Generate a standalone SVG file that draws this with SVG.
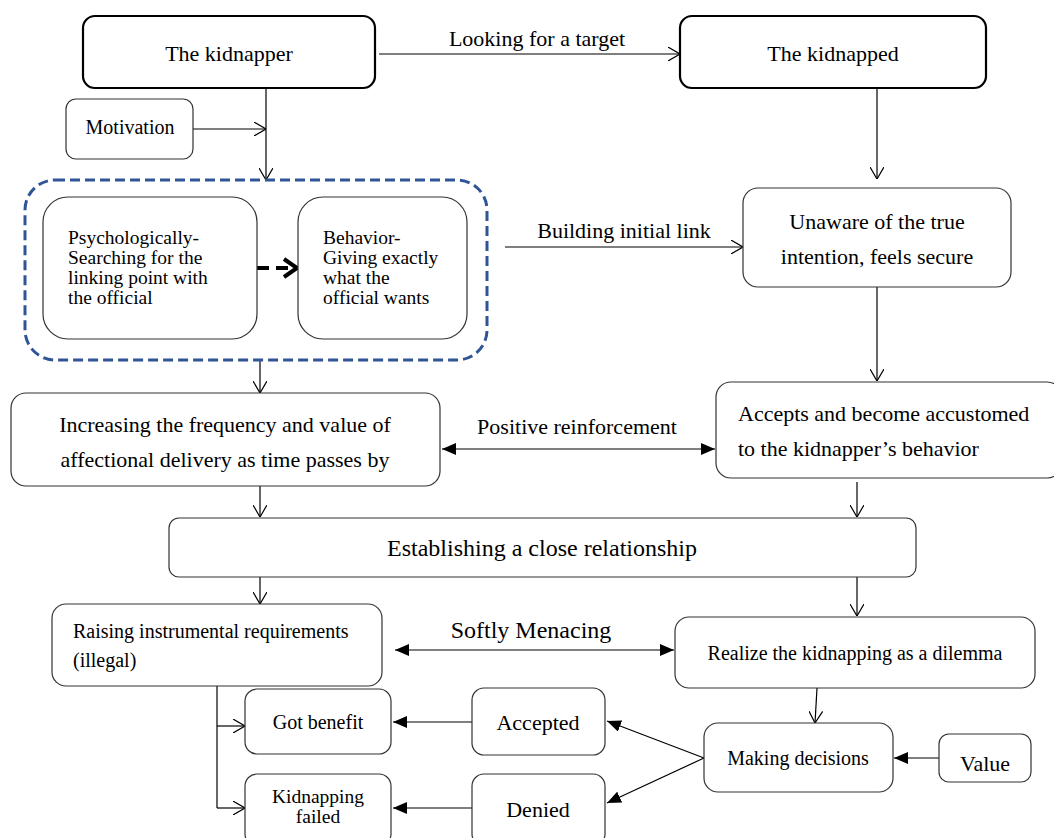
<svg xmlns="http://www.w3.org/2000/svg" width="1054" height="838" viewBox="0 0 1054 838">
<style>
text{font-family:"Liberation Serif","Times New Roman",serif;fill:#000}
.b{fill:#fff;stroke:#333;stroke-width:1.2}
.bb{fill:#fff;stroke:#000;stroke-width:2.2}
.c{fill:none;stroke:#000;stroke-width:1.2}
.f19{font-size:19.5px}.f20{font-size:20px}.f22{font-size:22px}.f24{font-size:24px}
.m{text-anchor:middle}
</style>
<defs>
<marker id="op" viewBox="0 0 12 14" refX="12" refY="7" markerWidth="12" markerHeight="14" markerUnits="userSpaceOnUse" orient="auto-start-reverse">
<path d="M0,0 L12,7 L0,14" fill="none" stroke="#000" stroke-width="1.2"/>
</marker>
<marker id="fl" viewBox="0 0 14 12" refX="14" refY="6" markerWidth="14" markerHeight="12" markerUnits="userSpaceOnUse" orient="auto-start-reverse">
<path d="M0,0 L14,6 L0,12 Z" fill="#000"/>
</marker>
</defs>
<rect width="1054" height="838" fill="#fff"/>

<g id="connectors">
<line class="c" x1="379" y1="54" x2="680" y2="54" marker-end="url(#op)"/>
<line class="c" x1="193" y1="129" x2="266" y2="129" marker-end="url(#op)"/>
<line class="c" x1="266" y1="88" x2="266" y2="180" marker-end="url(#op)"/>
<line class="c" x1="877" y1="88" x2="877" y2="179" marker-end="url(#op)"/>
<line x1="257" y1="268" x2="295" y2="268" stroke="#000" stroke-width="4" stroke-dasharray="12 7"/>
<path d="M284,259 L297,268 L284,277" fill="none" stroke="#000" stroke-width="4"/>
<line class="c" x1="505" y1="247" x2="743" y2="247" marker-end="url(#op)"/>
<line class="c" x1="877" y1="287" x2="877" y2="381" marker-end="url(#op)"/>
<line class="c" x1="260" y1="360" x2="260" y2="393" marker-end="url(#op)"/>
<line class="c" x1="442" y1="449" x2="715" y2="449" marker-start="url(#fl)" marker-end="url(#fl)"/>
<line class="c" x1="260" y1="486" x2="260" y2="517" marker-end="url(#op)"/>
<line class="c" x1="857" y1="482" x2="857" y2="517" marker-end="url(#op)"/>
<line class="c" x1="260" y1="577" x2="260" y2="604" marker-end="url(#op)"/>
<line class="c" x1="857" y1="577" x2="857" y2="616" marker-end="url(#op)"/>
<line class="c" x1="395" y1="650" x2="674" y2="650" marker-start="url(#fl)" marker-end="url(#fl)"/>
<line class="c" x1="817" y1="688" x2="815" y2="723" marker-end="url(#op)"/>
<line class="c" x1="939" y1="758" x2="894" y2="758" marker-end="url(#fl)"/>
<line class="c" x1="704" y1="758" x2="607" y2="721" marker-end="url(#fl)"/>
<line class="c" x1="704" y1="758" x2="607" y2="803" marker-end="url(#fl)"/>
<line class="c" x1="472" y1="722" x2="393" y2="722" marker-end="url(#fl)"/>
<line class="c" x1="472" y1="808" x2="393" y2="808" marker-end="url(#fl)"/>
<path class="c" d="M217,686 L217,808"/>
<line class="c" x1="217" y1="726" x2="245" y2="726" marker-end="url(#op)"/>
<line class="c" x1="217" y1="808" x2="245" y2="808" marker-end="url(#op)"/>
</g>
<g id="label-looking"><text class="f22 m" x="537" y="46">Looking for a target</text></g>
<g id="label-building"><text class="f22 m" x="624" y="238">Building initial link</text></g>
<g id="label-positive"><text class="f22 m" x="577" y="434">Positive reinforcement</text></g>
<g id="label-softly"><text class="f24 m" x="531" y="638">Softly Menacing</text></g>

<g id="kidnapper">
<rect class="bb" x="83" y="16" width="292" height="72" rx="12"/>
<text class="f22 m" x="229" y="61">The kidnapper</text>
</g>
<g id="kidnapped">
<rect class="bb" x="680" y="16" width="306" height="72" rx="12"/>
<text class="f22 m" x="833" y="61">The kidnapped</text>
</g>
<g id="motivation">
<rect class="b" x="66" y="99" width="127" height="60" rx="10"/>
<text class="f20 m" x="130" y="134">Motivation</text>
</g>
<g id="group-box">
<rect x="25" y="180" width="462" height="180" rx="30" fill="none" stroke="#2F5597" stroke-width="3" stroke-dasharray="10 5"/>
</g>
<g id="psychologically">
<rect class="b" x="43" y="197" width="214" height="142" rx="25"/>
<text class="f19" x="68" y="244">Psychologically-</text>
<text class="f19" x="68" y="264">Searching for the</text>
<text class="f19" x="68" y="284">linking point with</text>
<text class="f19" x="68" y="304">the official</text>
</g>
<g id="behavior">
<rect class="b" x="298" y="197" width="169" height="142" rx="25"/>
<text class="f19" x="323" y="244">Behavior-</text>
<text class="f19" x="323" y="264">Giving exactly</text>
<text class="f19" x="323" y="284">what the</text>
<text class="f19" x="323" y="304">official wants</text>
</g>
<g id="unaware">
<rect class="b" x="743" y="188" width="268" height="99" rx="15"/>
<text class="f22 m" x="877" y="229">Unaware of the true</text>
<text class="f22 m" x="877" y="264">intention, feels secure</text>
</g>
<g id="increasing">
<rect class="b" x="11" y="393" width="429" height="93" rx="15"/>
<text class="f22 m" x="225" y="432">Increasing the frequency and value of</text>
<text class="f22 m" x="225" y="467">affectional delivery as time passes by</text>
</g>
<g id="accepts">
<rect class="b" x="716" y="382" width="346" height="96" rx="15"/>
<text class="f22" x="738" y="421">Accepts and become accustomed</text>
<text class="f22" x="738" y="456">to the kidnapper’s behavior</text>
</g>
<g id="establishing">
<rect class="b" x="169" y="518" width="747" height="59" rx="10"/>
<text class="f24 m" x="542" y="556">Establishing a close relationship</text>
</g>
<g id="raising">
<rect class="b" x="52" y="604" width="330" height="82" rx="14"/>
<text class="f20" x="73" y="638">Raising instrumental requirements</text>
<text class="f20" x="73" y="667">(illegal)</text>
</g>
<g id="realize">
<rect class="b" x="675" y="617" width="360" height="71" rx="14"/>
<text class="f20 m" x="855" y="660">Realize the kidnapping as a dilemma</text>
</g>
<g id="making">
<rect class="b" x="704" y="723" width="189" height="69" rx="14"/>
<text class="f20 m" x="798" y="765">Making decisions</text>
</g>
<g id="value">
<rect class="b" x="939" y="734" width="92" height="48" rx="10"/>
<text class="f22 m" x="985" y="771">Value</text>
</g>
<g id="accepted">
<rect class="b" x="472" y="688" width="133" height="67" rx="12"/>
<text class="f22 m" x="538" y="730">Accepted</text>
</g>
<g id="denied">
<rect class="b" x="472" y="774" width="133" height="72" rx="12"/>
<text class="f22 m" x="538" y="817">Denied</text>
</g>
<g id="got-benefit">
<rect class="b" x="245" y="689" width="146" height="65" rx="12"/>
<text class="f20 m" x="318" y="729">Got benefit</text>
</g>
<g id="failed">
<rect class="b" x="245" y="774" width="146" height="72" rx="12"/>
<text class="f19 m" x="318" y="803">Kidnapping</text>
<text class="f19 m" x="318" y="823">failed</text>
</g>
</svg>
